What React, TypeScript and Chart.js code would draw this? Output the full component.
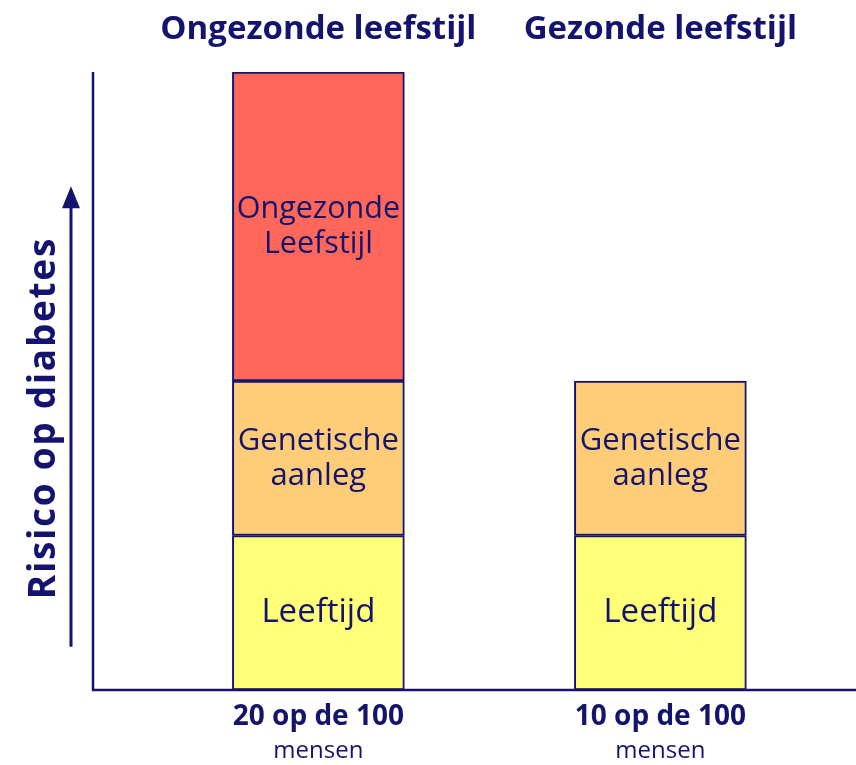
import React, { useEffect, useRef } from "react";
import { Chart, registerables } from "chart.js";

Chart.register(...registerables);

const categories = ["Ongezonde leefstijl", "Gezonde leefstijl"];
const positions = [1, 2];
const leeftijd = [5, 5];
const genetisch = [5, 5];
const ongezond: (number | null)[] = [10, null];
const segmentLabels = [["Leeftijd"], ["Genetische", "aanleg"], ["Ongezonde", "Leefstijl"]];
const segmentFontSizes = [33, 31, 30.5];
const bottomLabels = ["20 op de 100", "10 op de 100"];
const bottomSub = ["mensen", "mensen"];
const yTitle = "Risico op diabetes";

const NAVY = "#14146e";
const FONT = "'Open Sans', 'DejaVu Sans', sans-serif";

const overlay = {
  id: "overlay",
  afterDatasetsDraw(chart: any) {
    const ctx = chart.ctx;
    const xs = chart.scales.x;
    const ys = chart.scales.y;
    const area = chart.chartArea;
    ctx.save();
    ctx.strokeStyle = NAVY;
    ctx.fillStyle = NAVY;
    ctx.lineWidth = 2.5;
    // axes
    ctx.beginPath();
    ctx.moveTo(area.left, area.top);
    ctx.lineTo(area.left, area.bottom);
    ctx.lineTo(chart.width, area.bottom);
    ctx.stroke();
    // arrow
    const ax = area.left - 22;
    ctx.lineWidth = 3;
    ctx.beginPath();
    ctx.moveTo(ax, ys.getPixelForValue(1.4));
    ctx.lineTo(ax, ys.getPixelForValue(15.8));
    ctx.stroke();
    const tip = ys.getPixelForValue(16.3);
    ctx.beginPath();
    ctx.moveTo(ax, tip);
    ctx.lineTo(ax - 9, tip + 22);
    ctx.lineTo(ax + 9, tip + 22);
    ctx.closePath();
    ctx.fill();
    // y title
    ctx.save();
    ctx.translate(44, ys.getPixelForValue(8.8));
    ctx.rotate(-Math.PI / 2);
    ctx.font = `bold 37px ${FONT}`;
    (ctx as any).letterSpacing = "1.7px";
    ctx.textAlign = "center";
    ctx.textBaseline = "middle";
    ctx.fillText(yTitle, 0, 0);
    ctx.restore();
    ctx.textAlign = "center";
    ctx.textBaseline = "middle";
    categories.forEach((c, i) => {
      const px = xs.getPixelForValue(positions[i]);
      ctx.font = `bold 33px ${FONT}`;
      ctx.fillText(c, px, 30);
      ctx.font = `bold 28px ${FONT}`;
      ctx.fillText(bottomLabels[i], px, area.bottom + 27);
      ctx.font = `24px ${FONT}`;
      ctx.fillText(bottomSub[i], px, area.bottom + 61);
    });
    // segment labels
    chart.data.datasets.forEach((ds: any, di: number) => {
      const meta = chart.getDatasetMeta(di);
      ctx.font = `${segmentFontSizes[di]}px ${FONT}`;
      meta.data.forEach((bar: any, i: number) => {
        const v = ds.data[i];
        if (v == null || v.y == null) return;
        const lines = segmentLabels[di];
        const cy = (bar.y + bar.base) / 2;
        const lh = 35;
        lines.forEach((l: string, li: number) => {
          ctx.fillText(l, bar.x, cy + (li - (lines.length - 1) / 2) * lh);
        });
      });
    });
    ctx.restore();
  },
};

export default function App() {
  const ref = useRef<HTMLCanvasElement>(null);
  useEffect(() => {
    const toPts = (arr: (number | null)[]) =>
      arr.map((v, i) => ({ x: positions[i], y: v }));
    const chart = new Chart(ref.current!, {
      type: "bar",
      data: {
        datasets: [
          { label: "Leeftijd", data: toPts(leeftijd), backgroundColor: "#ffff78" },
          { label: "Genetische aanleg", data: toPts(genetisch), backgroundColor: "#ffcc78" },
          { label: "Ongezonde leefstijl", data: toPts(ongezond), backgroundColor: "#ff675a" },
        ].map((d) => ({
          ...d,
          borderColor: NAVY,
          borderWidth: 2,
          borderSkipped: false,
          barThickness: 172,
        })) as any,
      },
      options: {
        responsive: false,
        animation: false,
        layout: { padding: { left: 93, right: 0, top: 72, bottom: 75 } },
        plugins: { legend: { display: false }, tooltip: { enabled: false } },
        scales: {
          x: { type: "linear", display: false, offset: false, min: 0.341, max: 2.572, stacked: true },
          y: { display: false, min: 0, max: 20, stacked: true },
        },
      },
      plugins: [overlay],
    });
    return () => chart.destroy();
  }, []);
  return (
    <div style={{ position: "absolute", left: 0, top: 0, width: 856, height: 765, background: "#fff" }}>
      <canvas ref={ref} width={856} height={765} />
    </div>
  );
}
